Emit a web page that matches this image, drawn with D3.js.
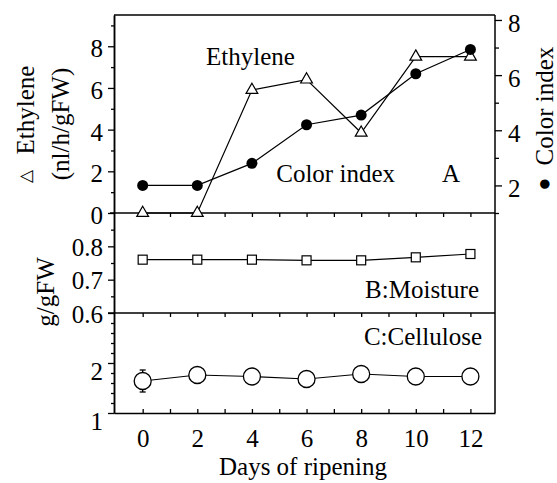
<!DOCTYPE html>
<html>
<head>
<meta charset="utf-8">
<script src="https://cdn.jsdelivr.net/npm/d3@7/dist/d3.min.js"></script>
<style>
  html, body { margin: 0; padding: 0; background: #fff; }
  svg text { font-family: "Liberation Serif", "Times New Roman", serif; fill: #000; }
</style>
</head>
<body>
<svg id="chart" width="557" height="483"></svg>
<script>
// ---- data ----
const days = [0, 2, 4, 6, 8, 10, 12];
const ethylene = [0, 0, 5.9, 6.4, 3.85, 7.5, 7.5];
const colorIndex = [2.0, 2.0, 2.8, 4.2, 4.55, 6.05, 6.93];
const moisture = [0.76, 0.76, 0.76, 0.758, 0.758, 0.767, 0.777];
const cellulose = [1.64, 1.76, 1.73, 1.68, 1.78, 1.73, 1.73];
const celluloseErr = [0.22, 0, 0, 0, 0, 0, 0];

const xTickLabels = [0, 2, 4, 6, 8, 10, 12];
const ethTicks = [0, 2, 4, 6, 8];
const ethMinor = [1, 3, 5, 7, 9];
const colTicks = [2, 4, 6, 8];
const colMinor = [1, 3, 5, 7];
const moiTicks = [0.6, 0.7, 0.8];
const moiMinor = [0.65, 0.75, 0.85];
const celTicks = [1, 2];
const celMinor = [1.2, 1.4, 1.6, 1.8, 2.2, 2.4, 2.6, 2.8];

// ---- layout ----
const L = 114, R = 495;
const topA = 15, botA = 213, botB = 313, botC = 413;
const FS = 25;

const svg = d3.select("#chart");

const x = d3.scaleLinear().domain([-1.05, 12.9]).range([L, R]);
const yA = d3.scaleLinear().domain([0, 9.5]).range([botA, topA]);
const yCol = d3.scaleLinear().domain([1, 8.18]).range([botA, topA]);
const yB = d3.scaleLinear().domain([0.6, 0.9]).range([botB, botA]);
const yC = d3.scaleLinear().domain([1, 3]).range([botC, botB]);

function styleAxis(g, fs) {
  g.selectAll("path.domain").attr("stroke", "#000").attr("stroke-width", 1.5);
  g.selectAll(".tick line").attr("stroke", "#000").attr("stroke-width", 1.3);
  g.selectAll(".tick text").attr("font-family", "Liberation Serif, Times New Roman, serif")
    .attr("font-size", fs || FS).attr("fill", "#000");
}

function leftAxis(scale, major, minor, fmt, dyShift) {
  const gMin = svg.append("g").attr("transform", `translate(${L},0)`)
    .call(d3.axisLeft(scale).tickValues(minor).tickSize(3).tickSizeOuter(0).tickFormat(""));
  styleAxis(gMin);
  const g = svg.append("g").attr("transform", `translate(${L},0)`)
    .call(d3.axisLeft(scale).tickValues(major).tickSize(6).tickSizeOuter(0).tickPadding(5).tickFormat(fmt));
  styleAxis(g);
  g.selectAll(".tick text").attr("dy", dyShift);
}
leftAxis(yA, ethTicks, ethMinor, d3.format("d"), "0.42em");
leftAxis(yB, moiTicks, moiMinor, d3.format(".1f"), "0.36em");
leftAxis(yC, celTicks, celMinor, d3.format("d"), "0.66em");

// right axis (color index)
{
  const gMin = svg.append("g").attr("transform", `translate(${R},0)`)
    .call(d3.axisRight(yCol).tickValues(colMinor).tickSize(4).tickSizeOuter(0).tickFormat(""));
  styleAxis(gMin);
  gMin.select("path.domain").remove();
  const g = svg.append("g").attr("transform", `translate(${R},0)`)
    .call(d3.axisRight(yCol).tickValues(colTicks).tickSize(7).tickSizeOuter(0).tickPadding(6).tickFormat(d3.format("d")));
  styleAxis(g);
  g.select("path.domain").remove();
  g.selectAll(".tick text").attr("dy", "0.45em");
}

// frame lines
const frame = svg.append("g").attr("stroke", "#000").attr("stroke-width", 1.5);
frame.append("line").attr("x1", L).attr("x2", R).attr("y1", topA).attr("y2", topA);
frame.append("line").attr("x1", R).attr("x2", R).attr("y1", topA).attr("y2", botC);
frame.append("line").attr("x1", L - 4).attr("x2", R).attr("y1", botA).attr("y2", botA);
frame.append("line").attr("x1", L - 6).attr("x2", R).attr("y1", botB).attr("y2", botB);

// x ticks (every day)
const dayTicks = d3.range(0, 13);
[botA, botB].forEach(yy => {
  const g = svg.append("g").attr("transform", `translate(0,${yy})`)
    .call(d3.axisBottom(x).tickValues(dayTicks).tickSize(4).tickSizeOuter(0).tickFormat(""));
  styleAxis(g);
  g.select("path.domain").remove();
});
{
  const g = svg.append("g").attr("transform", `translate(0,${botC})`)
    .call(d3.axisBottom(x).tickValues(dayTicks).tickSize(-4).tickSizeOuter(0).tickFormat(""));
  styleAxis(g);
  const gl = svg.append("g").attr("transform", `translate(0,${botC})`)
    .call(d3.axisBottom(x).tickValues(xTickLabels).tickSize(0).tickSizeOuter(0).tickPadding(16).tickFormat(d3.format("d")));
  styleAxis(gl);
  gl.select("path.domain").remove();
}

// ---- Panel A data ----
const lineA = d3.line().x((d, i) => x(days[i])).y(d => yA(d));
const lineCol = d3.line().x((d, i) => x(days[i])).y(d => yCol(d));
svg.append("path").datum(colorIndex).attr("d", lineCol).attr("fill", "none").attr("stroke", "#000").attr("stroke-width", 1.2);
svg.append("path").datum(ethylene).attr("d", lineA).attr("fill", "none").attr("stroke", "#000").attr("stroke-width", 1.2);

const tri = d3.symbol().type(d3.symbolTriangle).size(60);
svg.append("g").selectAll("path").data(ethylene).join("path")
  .attr("d", tri)
  .attr("transform", (d, i) => `translate(${x(days[i])},${yA(d)})`)
  .attr("fill", "#fff").attr("stroke", "#000").attr("stroke-width", 1.2);

svg.append("g").selectAll("circle").data(colorIndex).join("circle")
  .attr("cx", (d, i) => x(days[i])).attr("cy", d => yCol(d)).attr("r", 5.5)
  .attr("fill", "#000");

// ---- Panel B ----
const lineB = d3.line().x((d, i) => x(days[i])).y(d => yB(d));
svg.append("path").datum(moisture).attr("d", lineB).attr("fill", "none").attr("stroke", "#000").attr("stroke-width", 1.2);
svg.append("g").selectAll("rect").data(moisture).join("rect")
  .attr("x", (d, i) => x(days[i]) - 4.5).attr("y", d => yB(d) - 4.5)
  .attr("width", 9).attr("height", 9)
  .attr("fill", "#fff").attr("stroke", "#000").attr("stroke-width", 1.2);

// ---- Panel C ----
const lineC = d3.line().x((d, i) => x(days[i])).y(d => yC(d));
svg.append("path").datum(cellulose).attr("d", lineC).attr("fill", "none").attr("stroke", "#000").attr("stroke-width", 1.2);
const eb = svg.append("g").attr("stroke", "#000").attr("stroke-width", 1.3);
cellulose.forEach((v, i) => {
  const e = celluloseErr[i];
  if (!e) return;
  const cx = x(days[i]);
  eb.append("line").attr("x1", cx).attr("x2", cx).attr("y1", yC(v - e)).attr("y2", yC(v + e));
  eb.append("line").attr("x1", cx - 3).attr("x2", cx + 3).attr("y1", yC(v - e)).attr("y2", yC(v - e));
  eb.append("line").attr("x1", cx - 3).attr("x2", cx + 3).attr("y1", yC(v + e)).attr("y2", yC(v + e));
});
svg.append("g").selectAll("circle").data(cellulose).join("circle")
  .attr("cx", (d, i) => x(days[i])).attr("cy", d => yC(d)).attr("r", 8.5)
  .attr("fill", "#fff").attr("stroke", "#000").attr("stroke-width", 1.3);

// ---- annotations ----
function txt(s, xx, yy, anchor, fs) {
  return svg.append("text").attr("x", xx).attr("y", yy).attr("text-anchor", anchor || "start")
    .attr("font-size", fs || FS).text(s);
}
txt("Ethylene", 206, 65);
txt("Color index", 395, 182, "end");
txt("A", 442, 182);
txt("B:Moisture", 479, 298, "end");
txt("C:Cellulose", 482, 345, "end");
txt("Days of ripening", 303, 475, "middle");

// rotated axis titles
function rtxt(s, cx, cy, fs, anchor) {
  return svg.append("text").attr("transform", `translate(${cx},${cy}) rotate(-90)`)
    .attr("text-anchor", anchor || "middle").attr("dy", "0.35em").attr("font-size", fs || FS).text(s);
}
rtxt("\u25B3", 25, 176, 17).attr("font-family", "DejaVu Sans");
rtxt("Ethylene", 25, 110);
rtxt("(nl/h/gFW)", 60, 124);
rtxt("g/gFW", 45, 292);
rtxt("\u25CF", 543, 184, 22).attr("font-family", "DejaVu Sans");
rtxt("Color index", 544, 106);
</script>
</body>
</html>
